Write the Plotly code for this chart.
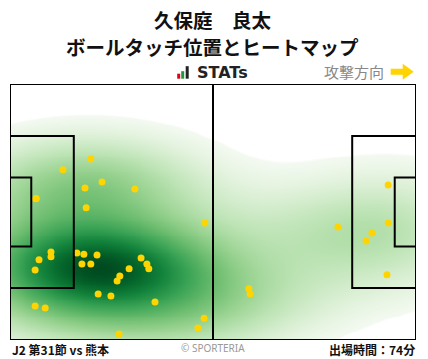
import numpy as np
import plotly.graph_objects as go

# ---- data: ball touch positions (metres, pitch 105 x 68, attacking to the right) ----
touch_x = [20.9, 13.7, 23.8, 19.4, 32.3, 6.8, 6.6, 19.7, 50.4, 10.6, 17.3, 19.1, 22.5,
           10.6, 7.5, 33.9, 18.6, 20.9, 35.4, 35.9, 30.8, 6.5, 28.4, 27.7, 22.8, 26.1,
           37.5, 6.5, 9.1, 50.2, 48.6, 28.2,
           97.8, 97.8, 84.8, 93.6, 92.1, 97.5, 61.8, 62.1]
touch_y = [48.1, 45.2, 42.0, 40.4, 40.1, 37.6, 37.5, 35.1, 31.1, 23.4, 23.1, 22.8, 22.6,
           22.1, 21.3, 21.8, 20.2, 20.2, 20.2, 18.9, 18.9, 18.6, 17.0, 15.7, 12.2, 11.7,
           10.1, 9.0, 8.5, 5.8, 3.2, 1.6,
           41.2, 31.1, 30.0, 28.4, 26.3, 17.3, 13.6, 12.2]

title_lines = ["久保庭　良太", "ボールタッチ位置とヒートマップ"]
match_label = "J2 第31節 vs 熊本"
minutes_label = "出場時間：74分"

PITCH_L, PITCH_W = 105.0, 68.0

# ---- kernel density estimate (Scott's rule, full covariance) ----
pts = np.vstack([touch_x, touch_y])
n = pts.shape[1]
factor = 1.25 * n ** (-1.0 / 6.0)
cov = np.cov(pts) * factor ** 2
inv = np.linalg.inv(cov)
gx = np.linspace(0, PITCH_L, 211)
gy = np.linspace(0, PITCH_W, 137)
GX, GY = np.meshgrid(gx, gy)
Z = np.zeros_like(GX)
for i in range(n):
    dx = GX - pts[0, i]
    dy = GY - pts[1, i]
    Z += np.exp(-0.5 * (inv[0, 0] * dx * dx + 2 * inv[0, 1] * dx * dy + inv[1, 1] * dy * dy))
Z = Z / Z.max()

colorscale = [
    [0.0, "#ffffff"],
    [0.045, "#ffffff"],
    [0.05, "#f3f9f0"],
    [0.14, "#dcf0d6"],
    [0.25, "#bee4b6"],
    [0.38, "#98d290"],
    [0.52, "#6bbc6e"],
    [0.67, "#38a254"],
    [0.81, "#12823b"],
    [0.92, "#04642a"],
    [1.0, "#004a20"],
]

fig = go.Figure()
fig.add_trace(go.Heatmap(x=gx, y=gy, z=Z, colorscale=colorscale, zmin=0, zmax=1,
                         zsmooth="best", showscale=False, hoverinfo="skip"))
fig.add_trace(go.Scatter(x=touch_x, y=touch_y, mode="markers",
                         marker=dict(size=7, color="#ffd400", line=dict(width=0)),
                         hoverinfo="skip", showlegend=False))

line = dict(color="black", width=2)
shapes = []
shapes.append(dict(type="rect", x0=0, x1=PITCH_L, y0=0, y1=PITCH_W, line=line))
shapes.append(dict(type="line", x0=PITCH_L / 2, x1=PITCH_L / 2, y0=0, y1=PITCH_W, line=line))
pa_w, pa_d = 40.32, 16.5
ga_w, ga_d = 18.32, 5.5
shapes.append(dict(type="rect", x0=0, x1=pa_d, y0=(PITCH_W - pa_w) / 2, y1=(PITCH_W + pa_w) / 2, line=line))
shapes.append(dict(type="rect", x0=PITCH_L - pa_d, x1=PITCH_L, y0=(PITCH_W - pa_w) / 2, y1=(PITCH_W + pa_w) / 2, line=line))
shapes.append(dict(type="rect", x0=0, x1=ga_d, y0=(PITCH_W - ga_w) / 2, y1=(PITCH_W + ga_w) / 2, line=line))
shapes.append(dict(type="rect", x0=PITCH_L - ga_d, x1=PITCH_L, y0=(PITCH_W - ga_w) / 2, y1=(PITCH_W + ga_w) / 2, line=line))

L, R, T, B = 10.3, 416.3, 84.3, 340.0
def px(x):
    return (x - L) / (R - L)
def py(y):
    return (B - y) / (B - T)

for (x0, x1, y0, col) in [(177.5, 180.5, 74, "#e60012"), (181.5, 184.5, 71.5, "#1a9b3c"), (186, 189, 66.5, "#222222")]:
    shapes.append(dict(type="rect", xref="paper", yref="paper", x0=px(x0), x1=px(x1),
                       y0=py(79), y1=py(y0), fillcolor=col, line=dict(width=0)))
arrow_path = "M {} {} L {} {} L {} {} L {} {} L {} {} L {} {} L {} {} Z".format(
    px(391), py(69), px(403), py(69), px(403), py(64), px(414), py(72),
    px(403), py(80), px(403), py(75), px(391), py(75))
shapes.append(dict(type="path", xref="paper", yref="paper", path=arrow_path,
                   fillcolor="#ffd400", line=dict(width=0)))

jp = "Noto Sans CJK JP"
annotations = [
    dict(text="<b>" + title_lines[0] + "</b>", x=px(213), y=py(19.5), xref="paper", yref="paper",
         showarrow=False, font=dict(family=jp, size=19.5, color="#111111"), xanchor="center", yanchor="middle"),
    dict(text="<b>" + title_lines[1] + "</b>", x=px(213), y=py(47), xref="paper", yref="paper",
         showarrow=False, font=dict(family=jp, size=19.5, color="#111111"), xanchor="center", yanchor="middle"),
    dict(text="<b>STATs</b>", x=px(195), y=py(73), xref="paper", yref="paper",
         showarrow=False, font=dict(family="DejaVu Sans", size=16, color="#222222"), xanchor="left", yanchor="middle"),
    dict(text="攻撃方向", x=px(386), y=py(72), xref="paper", yref="paper",
         showarrow=False, font=dict(family=jp, size=15, color="#888888"), xanchor="right", yanchor="middle"),
    dict(text="<b>" + match_label + "</b>", x=px(10), y=py(349), xref="paper", yref="paper",
         showarrow=False, font=dict(family=jp, size=12, color="#111111"), xanchor="left", yanchor="middle"),
    dict(text="© SPORTERIA", x=px(213), y=py(348), xref="paper", yref="paper",
         showarrow=False, font=dict(family="Noto Sans", size=10, color="#999999"), xanchor="center", yanchor="middle"),
    dict(text="<b>" + minutes_label + "</b>", x=px(417), y=py(349), xref="paper", yref="paper",
         showarrow=False, font=dict(family=jp, size=12, color="#111111"), xanchor="right", yanchor="middle"),
]

fig.update_layout(
    width=428, height=359,
    margin=dict(l=10, r=12, t=84, b=19),
    paper_bgcolor="white", plot_bgcolor="white",
    xaxis=dict(range=[0, PITCH_L], visible=False, fixedrange=True),
    yaxis=dict(range=[0, PITCH_W], visible=False, fixedrange=True),
    shapes=shapes, annotations=annotations, showlegend=False,
)
fig.write_html("out.html", config={"displayModeBar": False},
               post_script="document.body.style.margin='0';document.body.style.overflow='hidden';")
